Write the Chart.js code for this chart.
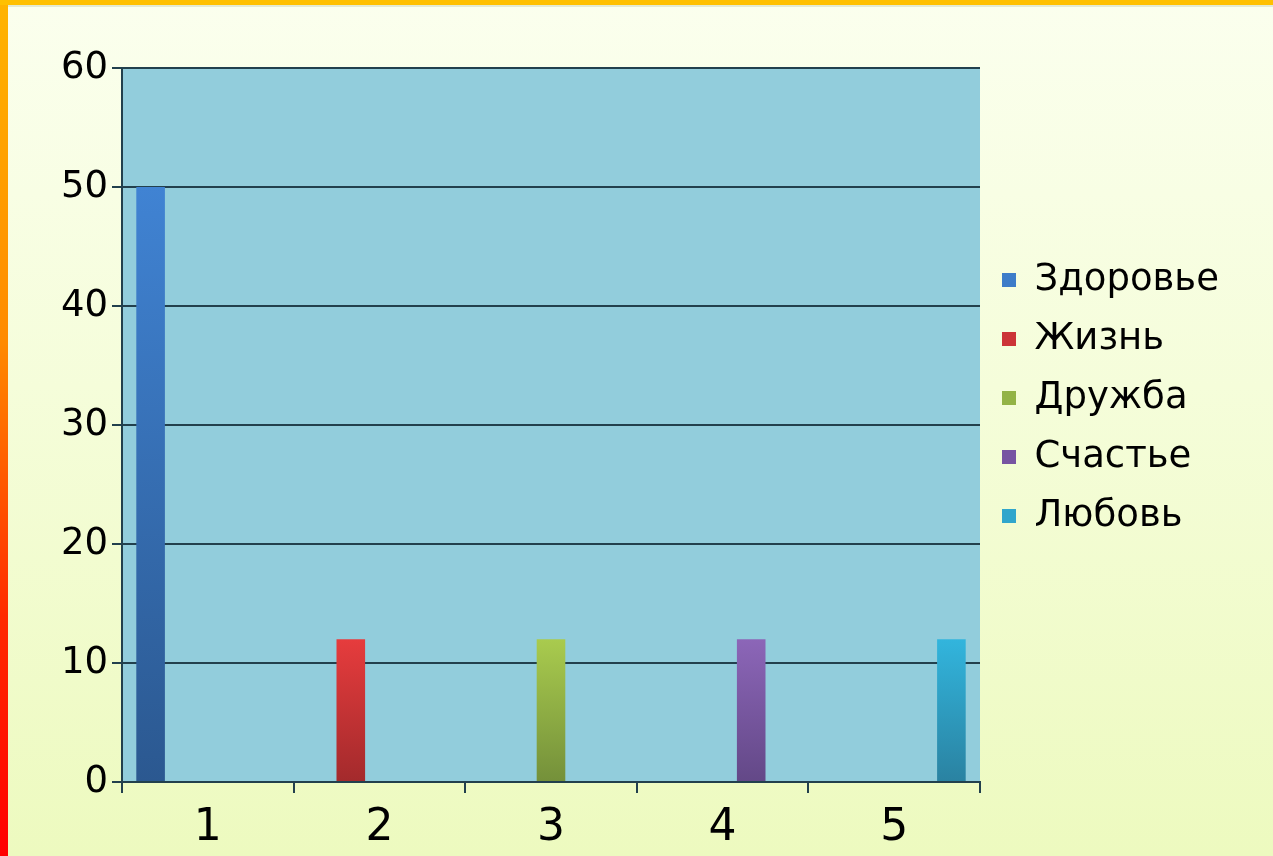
<!DOCTYPE html>
<html>
<head>
<meta charset="utf-8">
<script src="https://cdn.jsdelivr.net/npm/chart.js@4.4.1/dist/chart.umd.min.js"></script>
<style>
  html, body { margin: 0; padding: 0; }
  body {
    width: 1273px; height: 856px; overflow: hidden; position: relative;
    background: linear-gradient(to bottom, #fbffee 0%, #f5fdda 45%, #edfabf 100%);
  }
  #leftBar { position: absolute; left: 0; top: 0; width: 8px; height: 856px;
    background: linear-gradient(to bottom, #ffb400 0%, #ff8a00 40%, #ff2a00 72%, #ff0000 100%); }
  #topBar { position: absolute; left: 0; top: 0; width: 1273px; height: 5px; background: #ffc000; }
  #topLine { position: absolute; left: 8px; top: 5px; width: 1265px; height: 2px; background: #e4ead2; }
  canvas { position: absolute; left: 0; top: 0; }
</style>
</head>
<body>
<div id="leftBar"></div>
<div id="topBar"></div>
<div id="topLine"></div>
<canvas id="myChart" width="1273" height="856"></canvas>
<script>
// categories on the x axis and the legend names
var categories = ['1', '2', '3', '4', '5'];
var seriesNames = ['Здоровье', 'Жизнь', 'Дружба', 'Счастье', 'Любовь'];

// each series only has a value in its own category
var zdorovie = [50, null, null, null, null];
var zhizn = [null, 12, null, null, null];
var druzhba = [null, null, 12, null, null];
var schastie = [null, null, null, 12, null];
var lubov = [null, null, null, null, 12];

var yTicks = [0, 10, 20, 30, 40, 50, 60];

// colours: top of bar, bottom of bar, legend swatch
var tops = ['#4083d3', '#e63c3d', '#a9cb4e', '#8c66b8', '#32b5dd'];
var bottoms = ['#2b5890', '#a32a2c', '#74903a', '#634887', '#2a82a1'];
var swatches = ['#3a72bd', '#cc3437', '#93b346', '#7754a2', '#30a6cc'];

var lineColor = '#22404d';

//vertical gradient per bar, solid colour for the legend
function barFill(i) {
    return function (ctx) {
        if (ctx.type !== 'data' || ctx.raw == null) return swatches[i];
        var chart = ctx.chart;
        var y = chart.scales.y;
        if (!chart.chartArea || !y) return swatches[i];
        var y0 = y.getPixelForValue(ctx.raw);
        var y1 = y.getPixelForValue(0);
        if (!isFinite(y0) || !isFinite(y1) || y0 === y1) return swatches[i];
        var g = chart.ctx.createLinearGradient(0, y0, 0, y1);
        g.addColorStop(0, tops[i]);
        g.addColorStop(1, bottoms[i]);
        return g;
    };
}

var allSeries = [zdorovie, zhizn, druzhba, schastie, lubov];
var dataForChart = { labels: categories, datasets: [] };
for (var i = 0; i < allSeries.length; i++) {
    dataForChart.datasets.push({
        label: seriesNames[i],
        data: allSeries[i],
        backgroundColor: barFill(i),
        borderWidth: 0,
        categoryPercentage: 5 / 6,
        barPercentage: 1
    });
}

// light blue plot area
var plotBg = {
    id: 'plotBg',
    beforeDraw: function (chart) {
        var a = chart.chartArea;
        var c = chart.ctx;
        c.save();
        c.fillStyle = '#92cddc';
        c.fillRect(a.left, a.top, a.right - a.left, a.bottom - a.top);
        c.restore();
    }
};

var chartDisplay = document.getElementById('myChart');
var myChart = new Chart(chartDisplay, {
    type: 'bar',
    data: dataForChart,
    plugins: [plotBg],
    options: {
        responsive: false,
        animation: false,
        layout: { padding: { top: 68, left: 0, right: 0, bottom: 0 } },
        plugins: {
            tooltip: { enabled: false },
            legend: {
                position: 'right',
                align: 'start',
                // empty title only pushes the items down
                title: { display: true, text: '', font: { size: 10 }, padding: 79.75 },
                labels: {
                    font: { family: 'DejaVu Sans', size: 37 },
                    color: '#000',
                    boxWidth: 14,
                    boxHeight: 14,
                    padding: 22
                }
            }
        },
        scales: {
            x: {
                grid: { display: true, drawOnChartArea: false, drawTicks: true, tickLength: 11, color: lineColor, lineWidth: 2, offset: true },
                border: { display: true, color: lineColor, width: 2 },
                ticks: { font: { family: 'DejaVu Sans', size: 44 }, color: '#000', padding: 9 },
                afterFit: function (s) { s.height = 74; }
            },
            y: {
                min: 0,
                max: 60,
                grid: { color: lineColor, lineWidth: 2, tickLength: 10, drawTicks: true },
                border: { display: true, color: lineColor, width: 2 },
                ticks: { font: { family: 'DejaVu Sans', size: 37 }, color: '#000', padding: 4 },
                afterBuildTicks: function (s) {
                    s.ticks = yTicks.map(function (v) { return { value: v }; });
                },
                afterFit: function (s) { s.width = 122; }
            }
        }
    }
});

// legend column is 293px wide so the plot ends at x=980
var legendFit = myChart.legend.fit;
myChart.legend.fit = function () {
    legendFit.call(this);
    this.width = 293;
};
myChart.update();
</script>
</body>
</html>
